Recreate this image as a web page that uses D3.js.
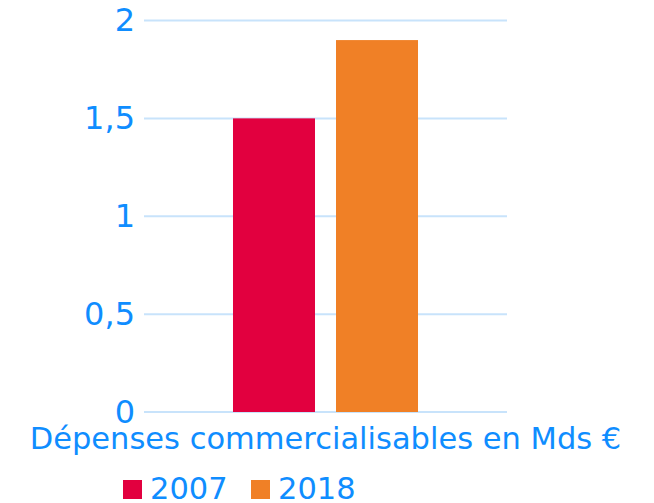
<!DOCTYPE html>
<html>
<head>
<meta charset="utf-8">
<script src="https://cdn.jsdelivr.net/npm/d3@7"></script>
<style>
  body { margin: 0; background: #fff; }
  text { font-family: "DejaVu Sans", sans-serif; }
</style>
</head>
<body>
<div id="chart"></div>
<script>
const categories = ["Dépenses commercialisables en Mds €"];
const seriesNames = ["2007", "2018"];
const values2007 = [1.5];
const values2018 = [1.9];
const yTicks = [0, 0.5, 1, 1.5, 2];
const colors = ["#e2003f", "#f08026"];
const textColor = "#0f8dff";

const data = categories.map((c, i) => ({ cat: c, "2007": values2007[i], "2018": values2018[i] }));

const W = 654, H = 503;
const margin = { top: 20.5, right: 147, bottom: 91, left: 144 };
const width = W - margin.left - margin.right,
      height = H - margin.top - margin.bottom;

const svg = d3.select("#chart").append("svg")
    .attr("width", W).attr("height", H);
const g = svg.append("g").attr("transform", `translate(${margin.left},${margin.top})`);

const y = d3.scaleLinear().domain([0, 2]).range([height, 0]);
const x0 = d3.scaleBand().domain(categories).range([0, width]).paddingInner(0).paddingOuter(0.481);
const x1 = d3.scaleBand().domain(seriesNames).range([0, x0.bandwidth()]).paddingInner(0.204).paddingOuter(0);

// gridlines
g.append("g").selectAll("line").data(yTicks).join("line")
    .attr("x1", 0).attr("x2", width)
    .attr("y1", d => y(d)).attr("y2", d => y(d))
    .attr("stroke", "#c8e3fb").attr("stroke-width", 2);

// y axis labels
const fmt = d => String(d).replace(".", ",");
g.append("g")
    .call(d3.axisLeft(y).tickValues(yTicks).tickFormat(fmt).tickSize(0).tickPadding(9))
    .call(a => a.select(".domain").remove())
    .selectAll("text")
    .attr("fill", textColor)
    .style("font-size", "32px")
    .style("font-family", "DejaVu Sans");

// bars
g.append("g").selectAll("g").data(data).join("g")
    .attr("transform", d => `translate(${x0(d.cat)},0)`)
  .selectAll("rect")
    .data(d => seriesNames.map((k, i) => ({ key: k, value: d[k], i })))
    .join("rect")
    .attr("x", d => x1(d.key))
    .attr("width", x1.bandwidth())
    .attr("y", d => y(d.value))
    .attr("height", d => height - y(d.value))
    .attr("fill", d => colors[d.i]);

// category label
svg.append("text")
    .attr("x", margin.left + width / 2)
    .attr("y", 449)
    .attr("text-anchor", "middle")
    .attr("fill", textColor)
    .style("font-size", "30.5px")
    .text(categories[0]);

// legend
const legend = svg.append("g").attr("transform", "translate(123,480)");
const items = legend.selectAll("g").data(seriesNames).join("g")
    .attr("transform", (d, i) => `translate(${i * 128},0)`);
items.append("rect")
    .attr("width", 19).attr("height", 19)
    .attr("fill", (d, i) => colors[i]);
items.append("text")
    .attr("x", 27).attr("y", 19)
    .attr("fill", textColor)
    .style("font-size", "30.5px")
    .text(d => d);
</script>
</body>
</html>
